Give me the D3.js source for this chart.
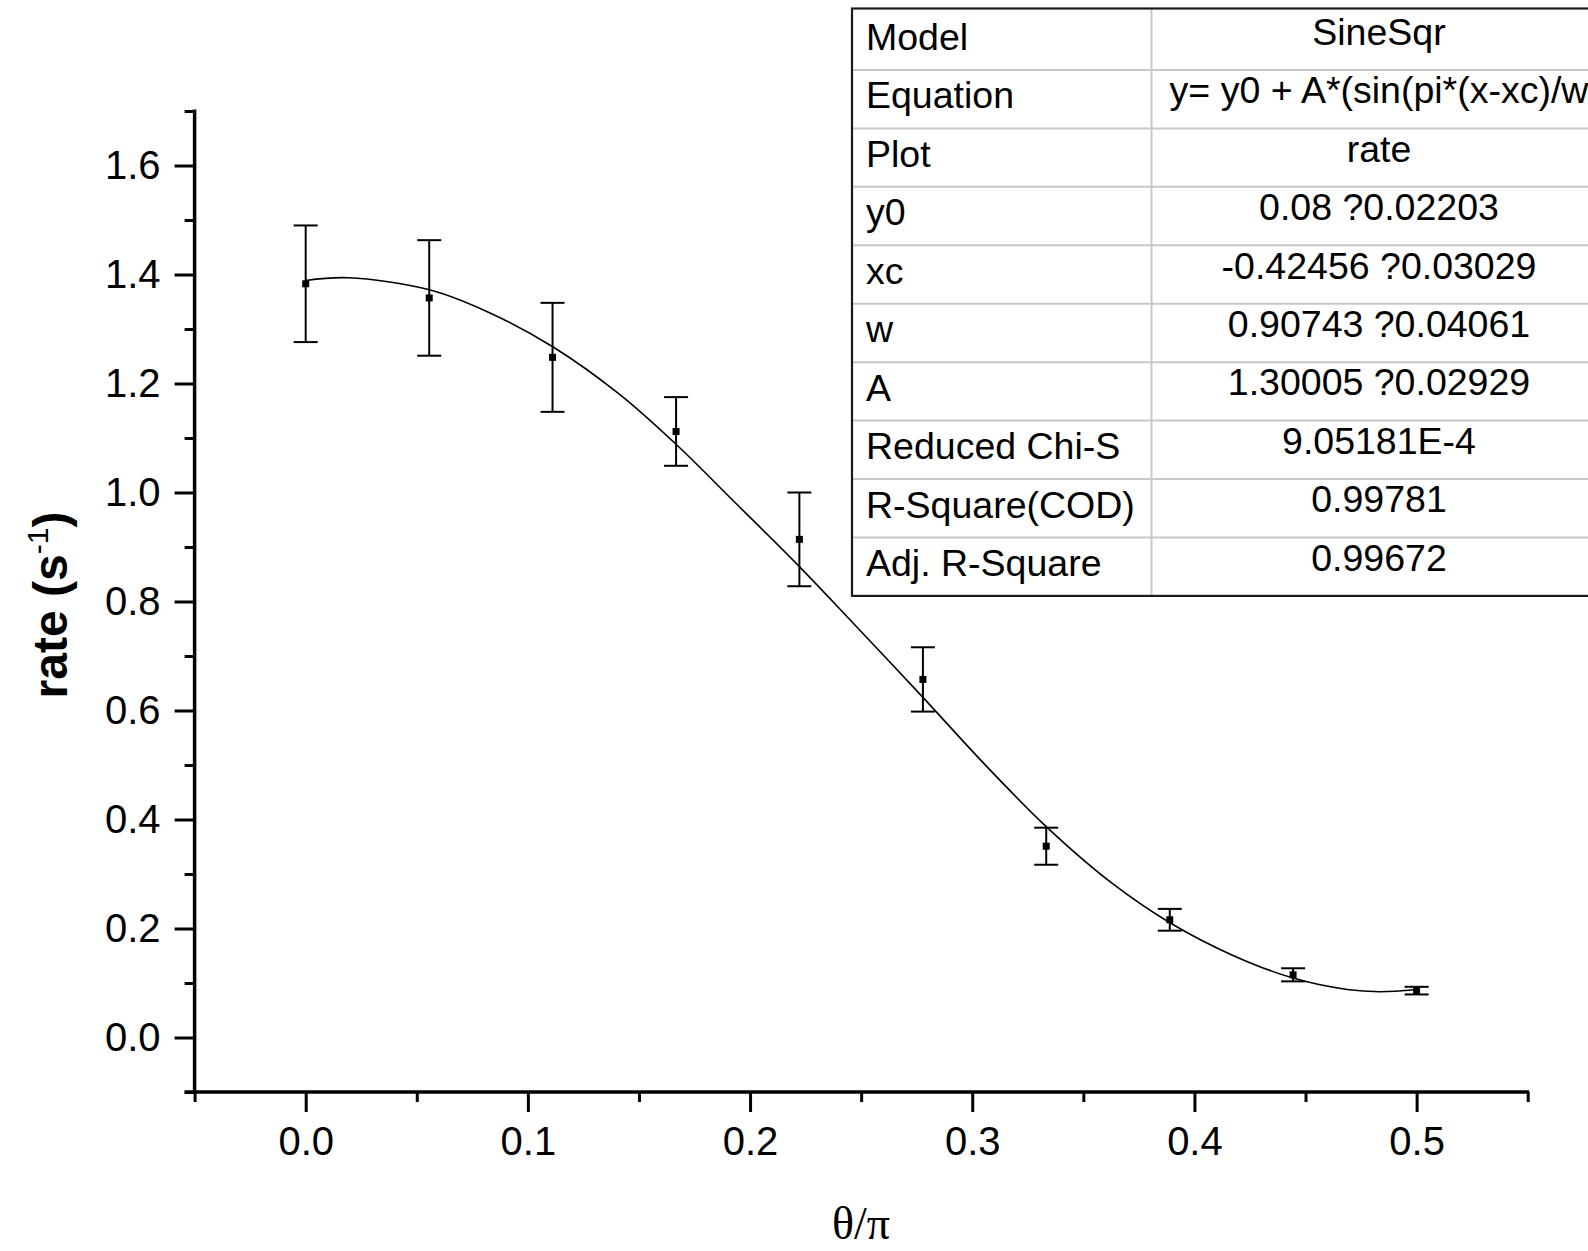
<!DOCTYPE html>
<html>
<head>
<meta charset="utf-8">
<script src="https://cdn.jsdelivr.net/npm/d3@7"></script>
<style>
  html, body { margin: 0; padding: 0; background: #fff; }
  svg { display: block; }
</style>
</head>
<body>
<div id="chart"></div>
<script>
var WIDTH = 1588, HEIGHT = 1251;
var SANS = '"Liberation Sans", Arial, sans-serif';
var SERIF = '"Liberation Serif", "Times New Roman", serif';

// measured rates with error bars
var thetaOverPi = [0, 0.0556, 0.1111, 0.1667, 0.2222, 0.2778, 0.3333, 0.3889, 0.4444, 0.5];
var rate = [1.383, 1.357, 1.248, 1.112, 0.914, 0.657, 0.351, 0.216, 0.115, 0.086];
var rateErr = [0.107, 0.106, 0.100, 0.063, 0.086, 0.059, 0.034, 0.020, 0.012, 0.007];

// SineSqr fit curve
var fitX = [0, 0.019, 0.0557, 0.0827, 0.1112, 0.1413, 0.1668, 0.1929, 0.2222, 0.2437,
            0.2776, 0.3052, 0.3333, 0.362, 0.3888, 0.4171, 0.4444, 0.4688, 0.4834, 0.5];
var fitY = [1.389, 1.394, 1.372, 1.330, 1.2675, 1.180, 1.088, 0.983, 0.864, 0.772,
            0.625, 0.503, 0.387, 0.286, 0.211, 0.151, 0.109, 0.088, 0.084, 0.088];

// axis ticks
var xMajor = [0, 0.1, 0.2, 0.3, 0.4, 0.5];
var xMinor = [-0.05, 0.05, 0.15, 0.25, 0.35, 0.45, 0.55];
var yMajor = [0, 0.2, 0.4, 0.6, 0.8, 1.0, 1.2, 1.4, 1.6];
var yMinor = [-0.1, 0.1, 0.3, 0.5, 0.7, 0.9, 1.1, 1.3, 1.5, 1.7];

// fit report table
var tableKeys = ['Model', 'Equation', 'Plot', 'y0', 'xc', 'w', 'A',
                 'Reduced Chi-S', 'R-Square(COD)', 'Adj. R-Square'];
var tableValues = ['SineSqr', 'y= y0 + A*(sin(pi*(x-xc)/w', 'rate', '0.08 ?0.02203',
                   '-0.42456 ?0.03029', '0.90743 ?0.04061', '1.30005 ?0.02929',
                   '9.05181E-4', '0.99781', '0.99672'];

var AXIS_W = 3.5;

var svg = d3.select('#chart').append('svg')
    .attr('width', WIDTH).attr('height', HEIGHT)
    .style('background', '#fff');

var xScale = d3.scaleLinear().domain([-0.05, 0.55]).range([194.6, 1527.7]);
var yScale = d3.scaleLinear().domain([-0.1, 1.7]).range([1092, 111]);

/** Draw ticks of one kind on an axis, hide the domain path. */
function drawTicks(grp, axis) {
    grp.call(axis);
    grp.select('.domain').remove();
    grp.selectAll('.tick line').attr('stroke', '#000').attr('stroke-width', 3);
    grp.selectAll('.tick text').attr('fill', '#000')
        .style('font-family', SANS).style('font-size', '40px');
    return grp;
}

// x axis
var xAxisG = svg.append('g').attr('transform', 'translate(0,' + yScale.range()[0] + ')');
drawTicks(xAxisG.append('g'), d3.axisBottom(xScale).tickValues(xMinor).tickSize(10).tickFormat(''));
drawTicks(xAxisG.append('g'), d3.axisBottom(xScale).tickValues(xMajor).tickSize(20)
    .tickPadding(15).tickFormat(d3.format('.1f')));
xAxisG.append('line')
    .attr('x1', xScale.range()[0] - 10).attr('x2', xScale.range()[1] + 1.5)
    .attr('y1', 0).attr('y2', 0)
    .attr('stroke', '#000').attr('stroke-width', AXIS_W);

// y axis
var yAxisG = svg.append('g').attr('transform', 'translate(' + xScale.range()[0] + ',0)');
drawTicks(yAxisG.append('g'), d3.axisLeft(yScale).tickValues(yMinor).tickSize(10).tickFormat(''));
drawTicks(yAxisG.append('g'), d3.axisLeft(yScale).tickValues(yMajor).tickSize(20)
    .tickPadding(14).tickFormat(d3.format('.1f')));
yAxisG.append('line')
    .attr('x1', 0).attr('x2', 0)
    .attr('y1', yScale.range()[1] - 1.5).attr('y2', yScale.range()[0] + 1.5)
    .attr('stroke', '#000').attr('stroke-width', AXIS_W);

// axis titles
svg.append('text')
    .attr('transform', 'translate(861,1239)')
    .attr('text-anchor', 'middle')
    .style('font-family', SERIF).style('font-size', '46px')
    .text('θ/π');

var yTitle = svg.append('text')
    .attr('transform', 'translate(67,605) rotate(-90)')
    .attr('text-anchor', 'middle')
    .style('font-family', SANS).style('font-size', '48px').style('font-weight', 'bold');
yTitle.append('tspan').text('rate (s');
yTitle.append('tspan').attr('dy', -19).style('font-size', '30px').style('font-weight', 'normal').text('-1');
yTitle.append('tspan').attr('dy', 19).text(')');

// fit curve
var fitData = fitX.map(function (x, i) { return { x: x, y: fitY[i] }; });
var line = d3.line()
    .x(function (d) { return xScale(d.x); })
    .y(function (d) { return yScale(d.y); })
    .curve(d3.curveCatmullRom.alpha(0.5));
svg.append('path').datum(fitData)
    .attr('d', line)
    .attr('fill', 'none').attr('stroke', '#000').attr('stroke-width', 1.6);

// points with error bars
var points = thetaOverPi.map(function (x, i) { return { x: x, y: rate[i], e: rateErr[i] }; });
var pts = svg.append('g').selectAll('g').data(points).join('g')
    .attr('stroke', '#000').attr('stroke-width', 2);
pts.append('line')
    .attr('x1', function (d) { return xScale(d.x); })
    .attr('x2', function (d) { return xScale(d.x); })
    .attr('y1', function (d) { return yScale(d.y - d.e); })
    .attr('y2', function (d) { return yScale(d.y + d.e); });
[-1, 1].forEach(function (sign) {
    pts.append('line')
        .attr('x1', function (d) { return xScale(d.x) - 12; })
        .attr('x2', function (d) { return xScale(d.x) + 12; })
        .attr('y1', function (d) { return yScale(d.y + sign * d.e); })
        .attr('y2', function (d) { return yScale(d.y + sign * d.e); });
});
pts.append('rect')
    .attr('x', function (d) { return xScale(d.x) - 3.5; })
    .attr('y', function (d) { return yScale(d.y) - 3.5; })
    .attr('width', 7).attr('height', 7)
    .attr('fill', '#000').attr('stroke', 'none');

// table
var TABLE_LEFT = 852, TABLE_TOP = 8.5, ROW0 = 11.5, ROW_H = 58.44;
var COL_DIV = 1151.5, TABLE_RIGHT = 1606.5;
var tbl = svg.append('g');
var tblBottom = ROW0 + ROW_H * tableKeys.length;
tbl.append('rect')
    .attr('x', TABLE_LEFT).attr('y', TABLE_TOP)
    .attr('width', TABLE_RIGHT - TABLE_LEFT).attr('height', tblBottom - TABLE_TOP)
    .attr('fill', '#fff');
d3.range(1, tableKeys.length).forEach(function (i) {
    tbl.append('line')
        .attr('x1', TABLE_LEFT).attr('x2', TABLE_RIGHT)
        .attr('y1', ROW0 + i * ROW_H).attr('y2', ROW0 + i * ROW_H)
        .attr('stroke', '#c8c8c8').attr('stroke-width', 2);
});
tbl.append('line')
    .attr('x1', COL_DIV).attr('x2', COL_DIV)
    .attr('y1', TABLE_TOP).attr('y2', tblBottom)
    .attr('stroke', '#c8c8c8').attr('stroke-width', 2);
tbl.append('rect')
    .attr('x', TABLE_LEFT).attr('y', TABLE_TOP)
    .attr('width', TABLE_RIGHT - TABLE_LEFT).attr('height', tblBottom - TABLE_TOP)
    .attr('fill', 'none').attr('stroke', '#1a1a1a').attr('stroke-width', 2.2);

tbl.selectAll('text.key').data(tableKeys).join('text')
    .attr('class', 'key')
    .attr('x', 866)
    .attr('y', function (d, i) { return ROW0 + i * ROW_H + 38.5; })
    .style('font-family', SANS).style('font-size', '37.5px')
    .text(function (d) { return d; });
tbl.selectAll('text.val').data(tableValues).join('text')
    .attr('class', 'val')
    .attr('x', (COL_DIV + TABLE_RIGHT) / 2)
    .attr('y', function (d, i) { return ROW0 + i * ROW_H + 33.3; })
    .attr('text-anchor', 'middle')
    .style('font-family', SANS).style('font-size', '37.5px')
    .text(function (d) { return d; });
</script>
</body>
</html>
